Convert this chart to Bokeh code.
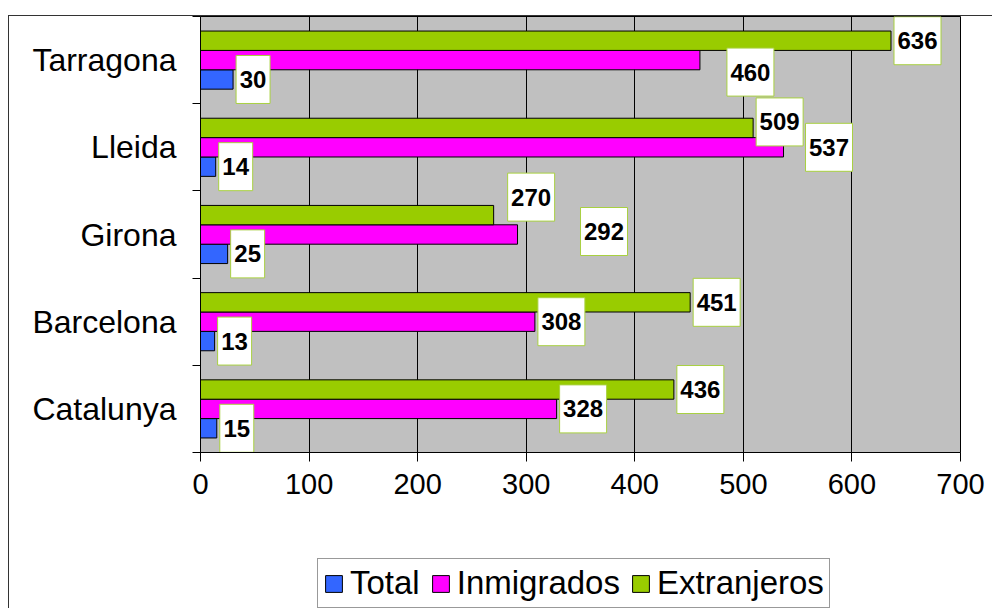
from bokeh.plotting import figure
from bokeh.layouts import column
from bokeh.models import ColumnDataSource, FixedTicker, Legend, LegendItem, Range1d
from bokeh.embed import file_html
from bokeh.resources import INLINE
from bokeh.core.properties import value

# Data (bottom to top)
regions = ["Catalunya", "Barcelona", "Girona", "Lleida", "Tarragona"]
total = [15, 13, 25, 14, 30]
inmigrados = [328, 308, 292, 537, 460]
extranjeros = [436, 451, 270, 509, 636]
series_names = ["Total", "Inmigrados", "Extranjeros"]
x_ticks = [0, 100, 200, 300, 400, 500, 600, 700]

series_values = {"Total": total, "Inmigrados": inmigrados, "Extranjeros": extranjeros}
colors = {"Total": "#3366FF", "Inmigrados": "#FF00FF", "Extranjeros": "#99CC00"}

X_MAX = 700
W = 983
BORDER_L, BORDER_R, BORDER_B = 191, 32, 90
FRAME_H = 436
CHART_H = FRAME_H + BORDER_B
LEGEND_STRIP_H = 66
FRAME_W = W - BORDER_L - BORDER_R
px_per_x = FRAME_W / X_MAX
px_per_band = FRAME_H / len(regions)

# three bars per band with a 150% gap
bar_h = 1 / 4.5
slots = {"Total": -bar_h, "Inmigrados": 0.0, "Extranjeros": bar_h}

# value boxes: gap after the bar end, plus a few hand-moved boxes (pixels, +y down)
label_gap = 3
box_h = 48
nudge_x = {"Total": [0, 0, 0, 0, 0],
           "Inmigrados": [0, 0, 60, 19, 24],
           "Extranjeros": [0, 0, 11, 0, 0]}
nudge_y = {"Total": [0, 0, 0, 0, 0],
           "Inmigrados": [0, 0, -3, 0, 12],
           "Extranjeros": [0, 0, -18, -6, 0]}

FONT = "Liberation Sans"

p = figure(
    width=W, height=CHART_H,
    x_range=Range1d(0, X_MAX), y_range=Range1d(-0.5, len(regions) - 0.5),
    output_backend="svg", toolbar_location=None,
    min_border_left=BORDER_L, min_border_right=BORDER_R,
    min_border_top=0, min_border_bottom=BORDER_B,
    background_fill_color="#C0C0C0", border_fill_color="white",
    outline_line_color="black",
)

renderers = {}
sources = {}
for name in series_names:
    vals = series_values[name]
    ys = [i + slots[name] for i in range(len(regions))]
    labels = [str(v) for v in vals]
    widths = [13 * len(s) + 8 for s in labels]
    bx = [v + (label_gap + nx + w / 2) / px_per_x
          for v, nx, w in zip(vals, nudge_x[name], widths)]
    by = [y - ny / px_per_band for y, ny in zip(ys, nudge_y[name])]
    src = ColumnDataSource(dict(y=ys, v=vals, label=labels, bx=bx, by=by, bw=widths))
    sources[name] = src
    renderers[name] = p.hbar(y="y", left=0, right="v", height=bar_h, source=src,
                             fill_color=colors[name], line_color="black", line_width=1)

for name in series_names:
    src = sources[name]
    p.rect(x="bx", y="by", width="bw", height=box_h, width_units="screen",
           height_units="screen", source=src,
           fill_color="white", line_color="#A8D040", line_width=1)
    p.text(x="bx", y="by", text="label", source=src,
           text_align="center", text_baseline="middle",
           text_font=value(FONT), text_font_style="bold", text_font_size="24px",
           text_color="black")

# x axis
p.xaxis.ticker = FixedTicker(ticks=x_ticks)
p.xaxis.major_tick_out = 9
p.xaxis.major_tick_in = 0
p.xaxis.minor_tick_out = 0
p.xaxis.minor_tick_in = 0
p.xaxis.axis_line_color = "black"
p.xaxis.major_tick_line_color = "black"
p.xaxis.major_label_standoff = 12
p.xaxis.major_label_text_font = FONT
p.xaxis.major_label_text_font_size = "29px"
p.xaxis.major_label_text_color = "black"

# y axis: names centred in each band, tick marks between bands
p.yaxis.ticker = FixedTicker(ticks=list(range(len(regions))),
                             minor_ticks=[i - 0.5 for i in range(len(regions) + 1)])
p.yaxis.major_label_overrides = {i: r for i, r in enumerate(regions)}
p.yaxis.major_tick_out = 0
p.yaxis.major_tick_in = 0
p.yaxis.minor_tick_out = 8
p.yaxis.minor_tick_in = 0
p.yaxis.minor_tick_line_color = "black"
p.yaxis.axis_line_color = "black"
p.yaxis.major_label_standoff = 16
p.yaxis.major_label_text_font = FONT
p.yaxis.major_label_text_font_size = "32px"
p.yaxis.major_label_text_color = "black"

p.xgrid.ticker = FixedTicker(ticks=x_ticks)
p.xgrid.grid_line_color = "black"
p.xgrid.grid_line_width = 1
p.ygrid.grid_line_color = None

# legend strip under the chart (its frame lines up with the chart's frame);
# the swatch renderers are tiny quads hidden behind the legend box itself
lg = figure(
    width=W, height=LEGEND_STRIP_H,
    x_range=Range1d(0, 1), y_range=Range1d(0, 1),
    output_backend="svg", toolbar_location=None,
    x_axis_location=None, y_axis_location=None,
    min_border=0, outline_line_color=None,
    background_fill_color="white", border_fill_color="white",
)
lg.grid.visible = False
swatches = {n: lg.quad(left=[0.45], right=[0.455], bottom=[0.3], top=[0.31],
                       fill_color=colors[n], line_color="black", line_width=1)
            for n in series_names}

legend = Legend(
    items=[LegendItem(label=n, renderers=[swatches[n]]) for n in series_names],
    orientation="horizontal", location=(117, 0),
    label_text_font=FONT, label_text_font_size="33px", label_text_color="black",
    glyph_width=21, glyph_height=21, label_standoff=6, spacing=10,
    padding=5, margin=0,
    border_line_color="#333333", border_line_width=1,
    background_fill_color="white", background_fill_alpha=1,
)
lg.add_layout(legend)

page = column(
    p, lg, spacing=0,
    margin=(15, 0, 0, 8),
    styles={"border-top": "1px solid #333333", "border-left": "1px solid #333333"},
)

open("out.html", "w").write(file_html(page, INLINE))
